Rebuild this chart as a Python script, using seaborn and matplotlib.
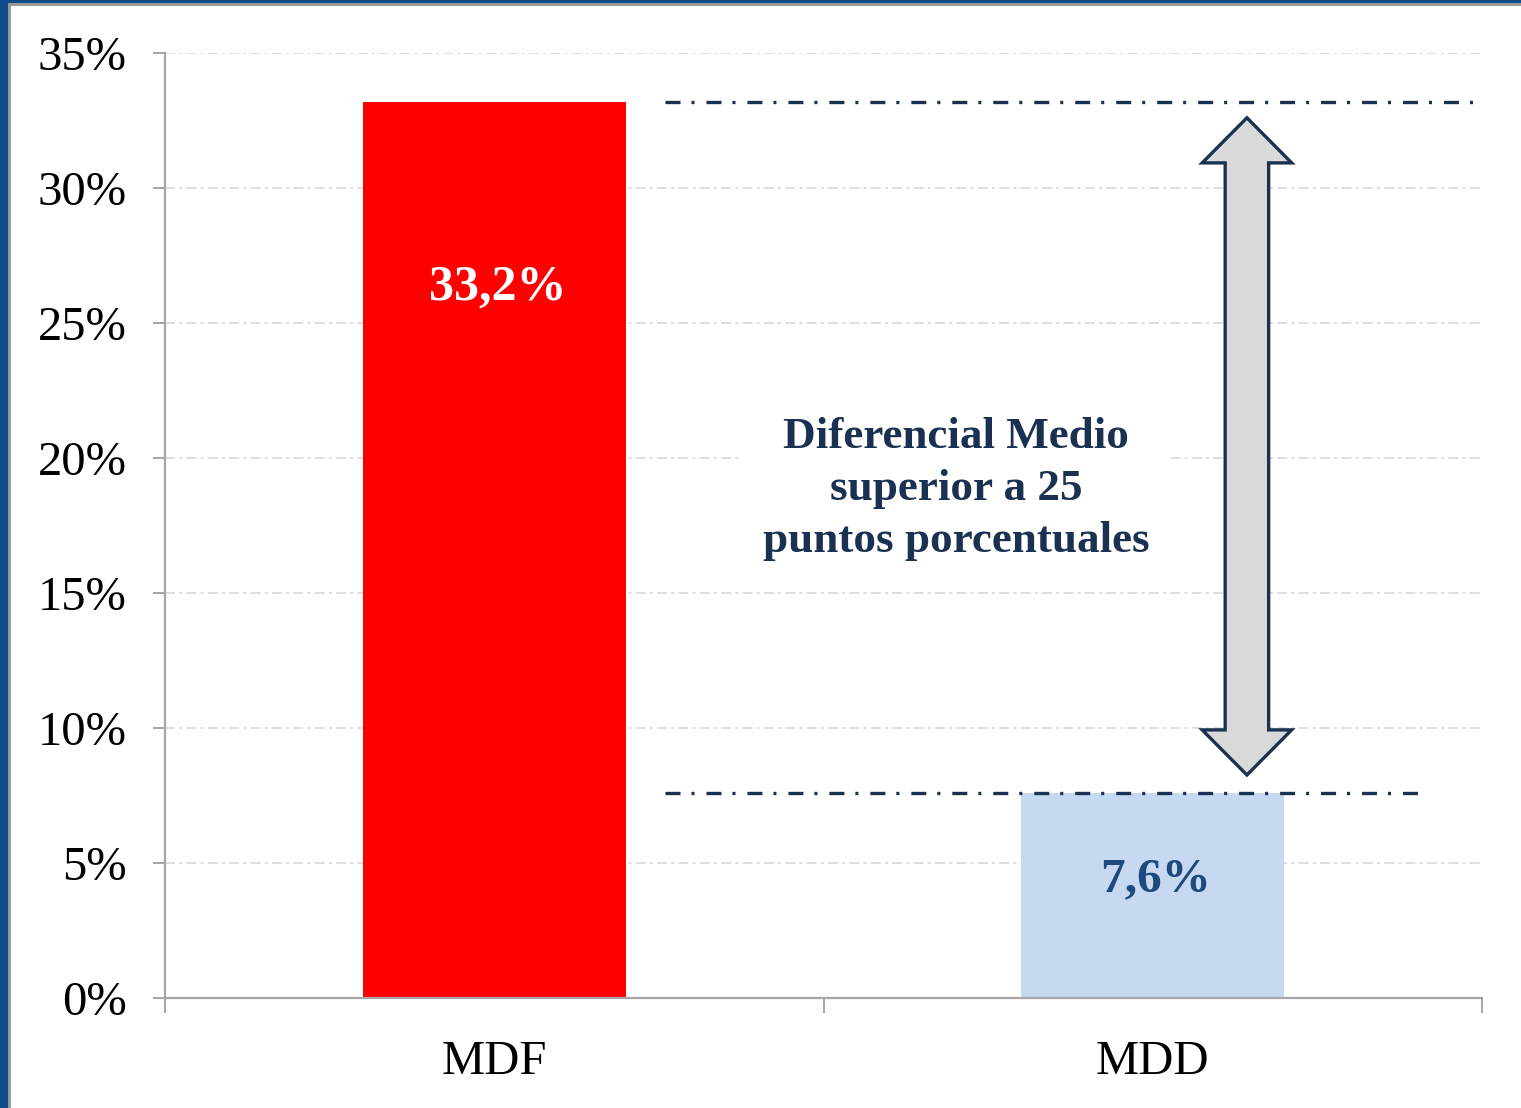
import matplotlib
matplotlib.use("Agg")
import matplotlib.pyplot as plt
from matplotlib.patches import Polygon, Rectangle
from matplotlib.ticker import FixedLocator
import pandas as pd
import seaborn as sns

# Data
categories = ["MDF", "MDD"]
values = [33.2, 7.6]
bar_colors = ["#FF0000", "#C6D9F1"]
label_colors = ["#FFFFFF", "#1F497D"]
y_ticks = [0, 5, 10, 15, 20, 25, 30, 35]
y_tick_labels = ["0%", "5%", "10%", "15%", "20%", "25%", "30%", "35%"]
note_lines = ["Diferencial Medio", "superior a 25", "puntos porcentuales"]

sns.set_style("white")
plt.rcParams["font.family"] = ["Liberation Serif", "DejaVu Serif"]
plt.rcParams["lines.scale_dashes"] = False

navy = "#1B3152"
axis_gray = "#A6A6A6"

fig = plt.figure(figsize=(15.21, 11.08), dpi=100)
ax = fig.add_axes([165 / 1521, 1 - 998 / 1108, (1482 - 165) / 1521, (998 - 53) / 1108])

df = pd.DataFrame({"cat": categories, "val": values})
sns.barplot(data=df, x="cat", y="val", hue="cat", palette=bar_colors,
            width=0.4, saturation=1, legend=False, ax=ax, zorder=3)
for p in ax.patches:
    p.set_edgecolor("none")

ax.set_xlim(-0.5, 1.5)
ax.set_ylim(0, 35)
ax.set_xlabel("")
ax.set_ylabel("")

# Axis styling
for s in ["top", "right"]:
    ax.spines[s].set_visible(False)
for s in ["left", "bottom"]:
    ax.spines[s].set_color(axis_gray)
    ax.spines[s].set_linewidth(1.6)
    ax.spines[s].set_zorder(4)

ax.yaxis.set_major_locator(FixedLocator(y_ticks))
ax.set_yticklabels(y_tick_labels, fontsize=35)
ax.tick_params(axis="y", left=True, direction="out", length=8.6, width=1.4,
               color=axis_gray, pad=19, labelcolor="black")
ax.set_xticks([0, 1])
ax.set_xticklabels(categories, fontsize=35)
ax.tick_params(axis="x", which="major", bottom=True, length=0, pad=30, labelcolor="black")
ax.xaxis.set_minor_locator(FixedLocator([-0.5, 0.5, 1.5]))
ax.tick_params(axis="x", which="minor", bottom=True, direction="out", length=11,
               width=1.4, color=axis_gray)

# Dash-dot horizontal gridlines
for yv in y_ticks[1:]:
    ax.axhline(yv, color="#D6D6D6", lw=1.1, ls=(0, (7.2, 3, 2.2, 3)), zorder=1)

# Value labels inside the bars
label_offsets = [6.9, 3.2]
label_sizes = [36, 35.5]
for i, v in enumerate(values):
    ax.text(i + 0.005, v - label_offsets[i], f"{v:.1f}".replace(".", ",") + "%",
            ha="center", va="center", fontsize=label_sizes[i], fontweight="bold",
            color=label_colors[i], zorder=5)

# Reference lines at each bar's level
ref_style = dict(color=navy, lw=2.4, ls=(0, (10.8, 7.9, 2.2, 8.6)), zorder=5,
                 solid_capstyle="butt", dash_capstyle="butt")
ax.plot([0.259, 1.496], [values[0], values[0]], **ref_style)
ax.plot([0.259, 1.406], [values[1], values[1]], **ref_style)

# Double-headed arrow showing the gap
cx = 1.143
top, bot = 32.6, 8.26
head_len = 1.67
hw, sw = 0.068, 0.033
pts = [
    (cx, top), (cx + hw, top - head_len), (cx + sw, top - head_len),
    (cx + sw, bot + head_len), (cx + hw, bot + head_len), (cx, bot),
    (cx - hw, bot + head_len), (cx - sw, bot + head_len),
    (cx - sw, top - head_len), (cx - hw, top - head_len),
]
ax.add_patch(Polygon(pts, closed=True, facecolor="#D9D9D9", edgecolor=navy,
                     lw=2.4, joinstyle="miter", zorder=6))

# Annotation text
ax.text(0.701, 18.85, "\n".join(note_lines), ha="center", va="center",
        fontsize=32.5, fontweight="bold", color=navy, linespacing=1.38, zorder=7,
        bbox=dict(facecolor="white", edgecolor="none", pad=16))

# Frame strips along the left and top edges
fig.patches.append(Rectangle((0, 0), 8 / 1521, 1, transform=fig.transFigure,
                             facecolor="#0E4C8A", edgecolor="none"))
fig.patches.append(Rectangle((8 / 1521, 0), 3 / 1521, 1, transform=fig.transFigure,
                             facecolor="#9A9A9A", edgecolor="none"))
fig.patches.append(Rectangle((0, 1 - 3 / 1108), 1, 3 / 1108, transform=fig.transFigure,
                             facecolor="#0E4C8A", edgecolor="none"))
fig.patches.append(Rectangle((8 / 1521, 1 - 6 / 1108), 1, 3 / 1108, transform=fig.transFigure,
                             facecolor="#9A9A9A", edgecolor="none"))

fig.savefig("out.png", dpi=100)
